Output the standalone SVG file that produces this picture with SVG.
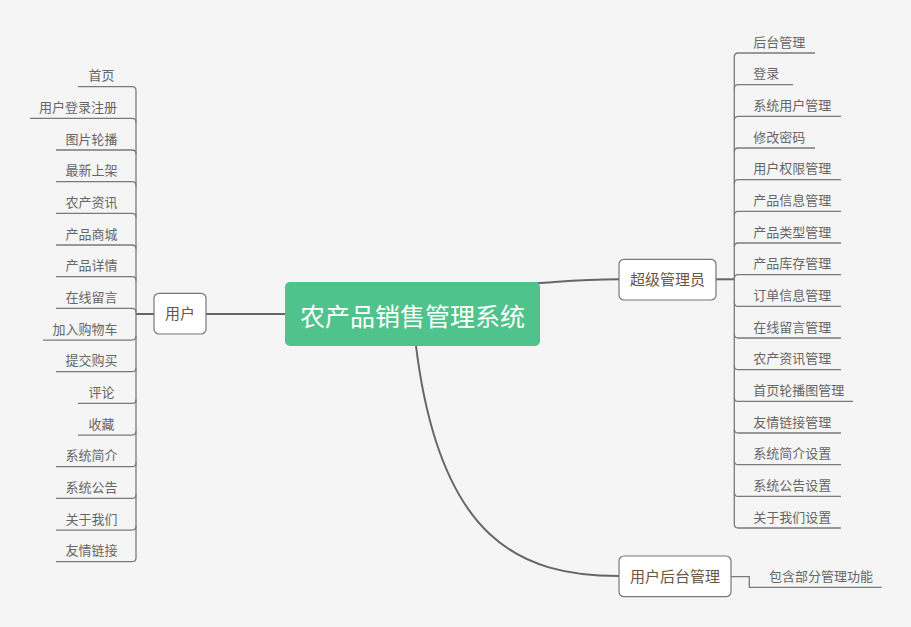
<svg xmlns="http://www.w3.org/2000/svg" width="911" height="627" viewBox="0 0 911 627">
<style>
text{font-family:"Noto Sans CJK SC","Noto Sans",sans-serif}
.leaf{font-size:13px;fill:#666}
.node{font-size:15px;fill:#6b5442;text-anchor:middle}
.box{fill:#fff;stroke:#777;stroke-width:1.2}
.main{fill:none;stroke:#666;stroke-width:2}
.br{fill:none;stroke:#7a7a7a;stroke-width:1.3}
</style>
<rect width="911" height="627" fill="#f5f5f5"/>
<g id="connectors">
<path class="main" d="M206 314 L285 314"/>
<path class="main" d="M136 314 L154 314"/>
<path class="main" d="M537 283.3 C570 281 585 279.3 619 279.3"/>
<path class="main" d="M716 279.3 L734.3 279.3"/>
<path class="main" d="M416 346 C440 540 520 576 619 576"/>
<path class="br" d="M731 576.7 L749.3 576.7 L749.3 587.3 L881.7 587.3"/>
<path class="br" d="M136 90.7 L136 557.7"/>
<path class="br" d="M78 86.7 L132 86.7 Q136 86.7 136 90.7"/>
<path class="br" d="M30 118.3 L132 118.3 Q136 118.3 136 122.3"/>
<path class="br" d="M56 150 L132 150 Q136 150 136 154"/>
<path class="br" d="M56 181.7 L132 181.7 Q136 181.7 136 185.7"/>
<path class="br" d="M56 213.4 L132 213.4 Q136 213.4 136 217.4"/>
<path class="br" d="M56 245 L132 245 Q136 245 136 249"/>
<path class="br" d="M56 276.7 L132 276.7 Q136 276.7 136 280.7"/>
<path class="br" d="M56 308.4 L132 308.4 Q136 308.4 136 312.4"/>
<path class="br" d="M43 340.1 L132 340.1 Q136 340.1 136 336.1"/>
<path class="br" d="M56 371.7 L132 371.7 Q136 371.7 136 367.7"/>
<path class="br" d="M78 403.4 L132 403.4 Q136 403.4 136 399.4"/>
<path class="br" d="M78 435.1 L132 435.1 Q136 435.1 136 431.1"/>
<path class="br" d="M56 466.7 L132 466.7 Q136 466.7 136 462.7"/>
<path class="br" d="M56 498.4 L132 498.4 Q136 498.4 136 494.4"/>
<path class="br" d="M56 530.1 L132 530.1 Q136 530.1 136 526.1"/>
<path class="br" d="M56 561.7 L132 561.7 Q136 561.7 136 557.7"/>
<path class="br" d="M734.3 57 L734.3 524"/>
<path class="br" d="M734.3 57 Q734.3 53 738.3 53 L815 53"/>
<path class="br" d="M734.3 88.7 Q734.3 84.7 738.3 84.7 L793 84.7"/>
<path class="br" d="M734.3 120.3 Q734.3 116.3 738.3 116.3 L841 116.3"/>
<path class="br" d="M734.3 152 Q734.3 148 738.3 148 L815 148"/>
<path class="br" d="M734.3 183.7 Q734.3 179.7 738.3 179.7 L841 179.7"/>
<path class="br" d="M734.3 215.3 Q734.3 211.3 738.3 211.3 L841 211.3"/>
<path class="br" d="M734.3 247 Q734.3 243 738.3 243 L841 243"/>
<path class="br" d="M734.3 278.7 Q734.3 274.7 738.3 274.7 L841 274.7"/>
<path class="br" d="M734.3 302.4 Q734.3 306.4 738.3 306.4 L841 306.4"/>
<path class="br" d="M734.3 334 Q734.3 338 738.3 338 L841 338"/>
<path class="br" d="M734.3 365.7 Q734.3 369.7 738.3 369.7 L841 369.7"/>
<path class="br" d="M734.3 397.4 Q734.3 401.4 738.3 401.4 L853 401.4"/>
<path class="br" d="M734.3 429 Q734.3 433 738.3 433 L841 433"/>
<path class="br" d="M734.3 460.7 Q734.3 464.7 738.3 464.7 L841 464.7"/>
<path class="br" d="M734.3 492.4 Q734.3 496.4 738.3 496.4 L841 496.4"/>
<path class="br" d="M734.3 524 Q734.3 528 738.3 528 L841 528"/>
</g>
<g id="central">
<rect x="285" y="282" width="255" height="64" rx="5" fill="#50c28b"/>
<text x="412.5" y="326" font-size="25" fill="#fff" text-anchor="middle">农产品销售管理系统</text>
</g>
<g id="user">
<rect class="box" x="154" y="293.3" width="52" height="40.7" rx="5"/>
<text class="node" x="180" y="318.5">用户</text>
</g>
<g id="admin">
<rect class="box" x="619" y="259.3" width="97" height="40.7" rx="5"/>
<text class="node" x="667.5" y="285">超级管理员</text>
</g>
<g id="userback">
<rect class="box" x="619" y="556" width="112" height="40.7" rx="5"/>
<text class="node" x="675" y="581.5">用户后台管理</text>
</g>
<g id="userback-child">
<text class="leaf" x="769" y="580.5">包含部分管理功能</text>
</g>
<g id="user-children">
<text class="leaf" x="88.5" y="80.2">首页</text>
<text class="leaf" x="39" y="111.8">用户登录注册</text>
<text class="leaf" x="65.5" y="143.5">图片轮播</text>
<text class="leaf" x="65.5" y="175.2">最新上架</text>
<text class="leaf" x="65.5" y="206.9">农产资讯</text>
<text class="leaf" x="65.5" y="238.5">产品商城</text>
<text class="leaf" x="65.5" y="270.2">产品详情</text>
<text class="leaf" x="65.5" y="301.9">在线留言</text>
<text class="leaf" x="52.5" y="333.6">加入购物车</text>
<text class="leaf" x="65.5" y="365.2">提交购买</text>
<text class="leaf" x="88.5" y="396.9">评论</text>
<text class="leaf" x="88.5" y="428.6">收藏</text>
<text class="leaf" x="65.5" y="460.2">系统简介</text>
<text class="leaf" x="65.5" y="491.9">系统公告</text>
<text class="leaf" x="65.5" y="523.6">关于我们</text>
<text class="leaf" x="65.5" y="555.2">友情链接</text>
</g>
<g id="admin-children">
<text class="leaf" x="753.3" y="46.5">后台管理</text>
<text class="leaf" x="753.3" y="78.2">登录</text>
<text class="leaf" x="753.3" y="109.8">系统用户管理</text>
<text class="leaf" x="753.3" y="141.5">修改密码</text>
<text class="leaf" x="753.3" y="173.2">用户权限管理</text>
<text class="leaf" x="753.3" y="204.8">产品信息管理</text>
<text class="leaf" x="753.3" y="236.5">产品类型管理</text>
<text class="leaf" x="753.3" y="268.2">产品库存管理</text>
<text class="leaf" x="753.3" y="299.9">订单信息管理</text>
<text class="leaf" x="753.3" y="331.5">在线留言管理</text>
<text class="leaf" x="753.3" y="363.2">农产资讯管理</text>
<text class="leaf" x="753.3" y="394.9">首页轮播图管理</text>
<text class="leaf" x="753.3" y="426.5">友情链接管理</text>
<text class="leaf" x="753.3" y="458.2">系统简介设置</text>
<text class="leaf" x="753.3" y="489.9">系统公告设置</text>
<text class="leaf" x="753.3" y="521.5">关于我们设置</text>
</g>
</svg>
